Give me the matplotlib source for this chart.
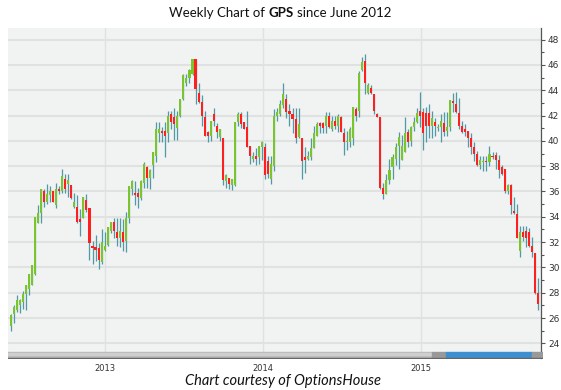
import numpy as np
import matplotlib.pyplot as plt
import matplotlib.dates as mdates
import pandas as pd
from matplotlib.offsetbox import TextArea, HPacker, AnchoredOffsetbox
from matplotlib.patches import Rectangle

# weekly OHLC of GPS (week 0 = end of May 2012)
opens = [25.4, 26.3, 26.6, 27.0, 27.3, 27.9, 28.3, 28.6, 29.5, 33.5,
         34.3, 36.0, 35.2, 35.7, 36.0, 34.9, 36.2, 36.0, 37.0, 36.6,
         36.5, 34.8, 34.8, 33.8, 33.9, 35.3, 34.7, 31.7, 31.6, 31.5,
         30.4, 31.4, 31.8, 32.9, 33.6, 32.8, 32.3, 32.8, 32.1, 33.9,
         36.2, 35.9, 35.9, 35.5, 36.7, 37.9, 37.1, 38.1, 38.8, 40.6,
         40.8, 40.8, 40.6, 42.1, 41.9, 41.0, 42.0, 43.3, 44.6, 45.0,
         45.3, 46.5, 43.8, 43.1, 41.9, 40.7, 40.4, 42.1, 41.2, 40.3,
         40.2, 36.8, 37.1, 36.5, 36.5, 41.5, 42.1, 41.5, 41.1, 39.6,
         38.6, 38.8, 38.7, 39.5, 39.5, 38.4, 37.0, 38.0, 42.0, 42.1,
         42.8, 43.3, 42.4, 42.1, 41.7, 40.3, 40.2, 38.7, 38.6, 38.7,
         39.4, 40.4, 41.4, 41.4, 41.2, 42.0, 40.9, 41.6, 41.2, 41.9,
         40.6, 39.9, 39.9, 40.2, 42.5, 42.4, 45.6, 46.3, 43.8, 44.2,
         43.7, 42.1, 41.9, 36.3, 35.8, 36.9, 37.9, 38.6, 39.6, 38.5,
         39.1, 40.7, 40.0, 41.1, 41.5, 42.4, 42.3, 42.2, 42.2, 41.2,
         41.5, 41.0, 41.1, 41.4, 40.8, 41.1, 43.1, 42.9, 42.2, 41.2,
         40.9, 40.8, 40.2, 39.5, 39.0, 38.1, 38.3, 38.4, 38.3, 38.8,
         38.9, 38.5, 37.9, 37.8, 36.0, 36.5, 34.4, 34.2, 31.3, 32.8,
         32.9, 32.8, 31.7, 31.1, 28.0]
highs = [26.3, 27.0, 27.8, 27.5, 28.1, 28.6, 29.5, 30.2, 34.0, 34.9,
         36.2, 36.2, 36.6, 36.4, 36.0, 36.7, 36.4, 37.8, 37.4, 37.4,
         36.5, 35.9, 35.7, 34.6, 35.6, 35.8, 34.7, 32.1, 32.6, 31.9,
         33.0, 32.8, 33.2, 33.6, 33.9, 33.9, 33.9, 33.8, 34.4, 36.4,
         36.9, 36.8, 36.3, 36.9, 38.3, 38.0, 37.8, 39.1, 41.5, 41.5,
         41.1, 41.5, 42.4, 42.4, 42.6, 42.4, 43.3, 45.3, 45.3, 45.7,
         46.5, 46.5, 44.6, 43.6, 42.4, 40.8, 41.6, 42.6, 41.4, 40.9,
         40.2, 37.4, 37.1, 37.0, 41.5, 42.3, 42.3, 41.5, 42.4, 39.6,
         39.1, 39.4, 39.6, 40.0, 39.8, 38.8, 38.8, 42.5, 42.6, 43.2,
         44.6, 43.7, 42.9, 42.6, 42.6, 42.6, 40.2, 39.5, 39.2, 40.2,
         41.2, 41.5, 41.5, 41.5, 42.3, 42.3, 42.0, 42.0, 42.1, 42.0,
         41.0, 40.8, 41.1, 42.7, 42.7, 45.5, 46.6, 46.9, 44.6, 44.4,
         43.7, 42.2, 41.9, 36.7, 37.4, 38.6, 39.0, 39.8, 40.7, 40.5,
         41.9, 40.9, 41.2, 41.9, 42.6, 43.9, 42.6, 42.7, 42.9, 42.4,
         41.8, 41.3, 42.1, 42.3, 42.3, 43.2, 43.8, 43.9, 43.4, 41.6,
         41.3, 40.8, 40.6, 39.9, 39.2, 38.8, 38.8, 38.8, 39.6, 39.1,
         39.1, 38.9, 38.1, 37.8, 36.6, 36.6, 35.6, 35.0, 33.3, 33.3,
         33.3, 33.1, 32.4, 31.1, 29.2]
lows = [25.0, 25.6, 26.5, 26.4, 26.7, 26.6, 27.8, 28.6, 29.4, 33.5,
        33.5, 34.8, 35.0, 35.2, 35.2, 34.7, 35.8, 35.9, 35.9, 35.6,
        35.4, 34.7, 33.5, 32.5, 33.9, 34.4, 30.6, 30.3, 30.5, 29.9,
        30.3, 31.3, 31.7, 32.7, 32.3, 31.7, 31.6, 31.3, 31.2, 33.5,
        35.7, 34.9, 34.7, 35.3, 36.3, 36.3, 36.2, 37.1, 38.3, 39.9,
        39.9, 38.7, 39.9, 40.9, 40.1, 40.1, 41.9, 43.2, 44.3, 44.6,
        45.2, 42.9, 43.0, 41.2, 40.4, 39.9, 40.0, 41.2, 40.2, 40.0,
        36.5, 36.3, 36.2, 36.1, 36.4, 41.2, 41.0, 40.9, 39.5, 38.2,
        38.3, 38.1, 38.2, 38.5, 37.0, 37.1, 36.6, 37.6, 41.6, 42.0,
        42.6, 41.8, 41.2, 40.6, 39.8, 40.2, 37.0, 37.5, 38.5, 38.5,
        39.4, 40.4, 40.6, 40.6, 40.6, 41.0, 40.8, 40.9, 40.7, 40.7,
        38.9, 39.3, 39.5, 39.7, 41.6, 41.9, 45.5, 43.7, 43.7, 43.7,
        42.1, 41.9, 36.2, 35.4, 35.8, 36.6, 37.0, 38.1, 37.8, 38.5,
        39.1, 39.5, 39.6, 40.8, 41.4, 41.1, 39.3, 39.9, 40.2, 40.2,
        40.4, 40.8, 39.9, 40.4, 40.4, 40.8, 42.3, 42.2, 40.9, 40.6,
        40.4, 39.5, 39.0, 38.4, 38.0, 37.8, 37.6, 37.6, 38.0, 38.6,
        37.8, 37.1, 37.3, 35.9, 35.8, 34.2, 34.2, 32.3, 30.8, 32.1,
        31.6, 31.6, 30.8, 27.9, 26.6]
closes = [26.2, 26.9, 27.4, 27.4, 27.9, 28.6, 29.5, 30.2, 34.0, 34.3,
          36.2, 35.2, 35.8, 36.0, 35.2, 36.2, 36.0, 37.2, 36.2, 36.9,
          35.5, 35.2, 33.6, 33.6, 35.6, 34.5, 31.9, 31.5, 31.4, 30.6,
          32.0, 31.7, 33.2, 33.6, 32.9, 32.3, 32.9, 32.0, 33.9, 36.4,
          36.8, 35.7, 35.6, 36.8, 38.2, 37.1, 37.7, 39.1, 40.9, 40.9,
          40.6, 40.4, 42.0, 41.5, 41.3, 42.0, 43.3, 45.2, 45.0, 45.6,
          46.5, 44.1, 43.1, 42.0, 40.4, 40.4, 41.6, 41.6, 40.7, 40.9,
          36.9, 37.3, 36.6, 37.0, 41.5, 42.1, 41.3, 40.9, 39.5, 38.8,
          38.8, 38.6, 39.6, 39.9, 37.3, 37.4, 38.2, 42.0, 42.3, 42.9,
          43.7, 42.3, 42.1, 41.7, 40.2, 41.3, 38.4, 38.5, 38.8, 39.4,
          40.6, 41.3, 41.2, 41.0, 42.0, 41.1, 41.6, 41.2, 42.0, 40.7,
          39.9, 40.0, 40.9, 42.7, 42.0, 45.4, 46.2, 44.6, 44.4, 43.8,
          42.4, 41.9, 36.3, 35.8, 36.9, 37.7, 38.7, 39.5, 40.3, 39.6,
          40.6, 39.9, 41.1, 41.5, 42.2, 42.0, 40.6, 41.2, 41.2, 41.8,
          41.2, 41.1, 41.6, 40.7, 41.1, 43.2, 43.0, 42.3, 41.2, 40.7,
          40.7, 40.2, 39.5, 39.0, 38.1, 38.5, 38.4, 38.3, 39.0, 38.7,
          38.5, 37.7, 37.4, 36.0, 36.5, 34.9, 34.3, 32.3, 32.8, 32.4,
          32.3, 31.7, 31.2, 28.0, 27.1]

start = "2012-05-28"
price_ticks = list(range(24, 49, 2))
year_ticks = ["2013-01-01", "2014-01-01", "2015-01-01"]
year_labels = ["2013", "2014", "2015"]

UP = "#79c52b"
DOWN = "#ff1f1f"
WICK = "#4f9aa3"
BG = "#f1f2f2"
GRID = "#e0e1e1"

dates = pd.date_range(start, periods=len(closes), freq="W-MON")
x = mdates.date2num(dates)
o = np.array(opens)
c = np.array(closes)
h = np.array(highs)
l = np.array(lows)
up = c >= o

fig = plt.figure(figsize=(5.61, 3.90), dpi=100)
ax = fig.add_axes([8/561, 1-358/390, 533/561, 330/390])
ax.set_facecolor(BG)

# wicks then bodies
ax.vlines(x, l, h, color=WICK, lw=0.9, zorder=3)
body_h = np.maximum(np.abs(c - o), 0.12)
body_b = np.minimum(o, c)
ax.bar(x, body_h, bottom=body_b, width=4.8,
       color=[UP if u else DOWN for u in up], zorder=4, linewidth=0)

ax.set_xlim(x[0] - 6.2, x[0] + 175 * 7)
ax.set_ylim(22.84, 48.92)

ax.yaxis.tick_right()
ax.set_yticks(price_ticks)
ax.set_yticks(range(25, 49, 2), minor=True)
ax.tick_params(axis="y", which="major", length=3, width=0.8, color="#555555",
               labelsize=6.5, labelcolor="#333333", pad=2)
ax.tick_params(axis="y", which="minor", length=2, width=0.8, color="#555555")
yr = mdates.date2num(pd.to_datetime(year_ticks))
ax.set_xticks(yr)
ax.set_xticklabels(year_labels)
ax.tick_params(axis="x", length=0, labelsize=6, labelcolor="#333333", pad=4)
ax.grid(True, axis="y", color=GRID, lw=1.5, zorder=0)
ax.grid(True, axis="x", color=GRID, lw=1.0, zorder=0)
ax.set_axisbelow(True)
for s in ["left", "top", "bottom"]:
    ax.spines[s].set_visible(False)
ax.spines["right"].set_color("#555555")
ax.spines["right"].set_linewidth(0.9)

# scrollbar strip at the bottom
sb = fig.add_axes([8/561, 1-359/390, 535/561, 8/390])
sb.set_xlim(0, 535)
sb.set_ylim(0, 8)
sb.axis("off")
sb.add_patch(Rectangle((0, 1), 424, 6, color="#b8b8b8"))
sb.add_patch(Rectangle((0, 4), 424, 2, color="#cfcfcf"))
sb.add_patch(Rectangle((424, 1), 14, 6, color="#999999"))
sb.add_patch(Rectangle((438, 1), 86, 6, color="#3d8fd0"))
sb.add_patch(Rectangle((524, 1), 11, 6, color="#999999"))
sb.add_patch(Rectangle((0, 0), 535, 0.9, color="#666666"))

# title with bold ticker
fnt = "Lato"
tp = dict(fontsize=9.5, family=fnt, color="#111111")
parts = [TextArea("Weekly Chart of", textprops=tp),
         TextArea("GPS", textprops=dict(tp, weight="bold")),
         TextArea("since June 2012", textprops=tp)]
box = HPacker(children=parts, align="baseline", pad=0, sep=2.6)
title = AnchoredOffsetbox(loc="center", child=box, frameon=False,
                          bbox_to_anchor=(0.5, 1 - 13/390),
                          bbox_transform=fig.transFigure, borderpad=0, pad=0)
fig.add_artist(title)

fig.text(283/561, 1 - 381/390, "Chart courtesy of OptionsHouse", ha="center", va="center",
         fontsize=10.5, family=fnt, style="italic", color="#111111")

fig.savefig("out.png", dpi=100)
